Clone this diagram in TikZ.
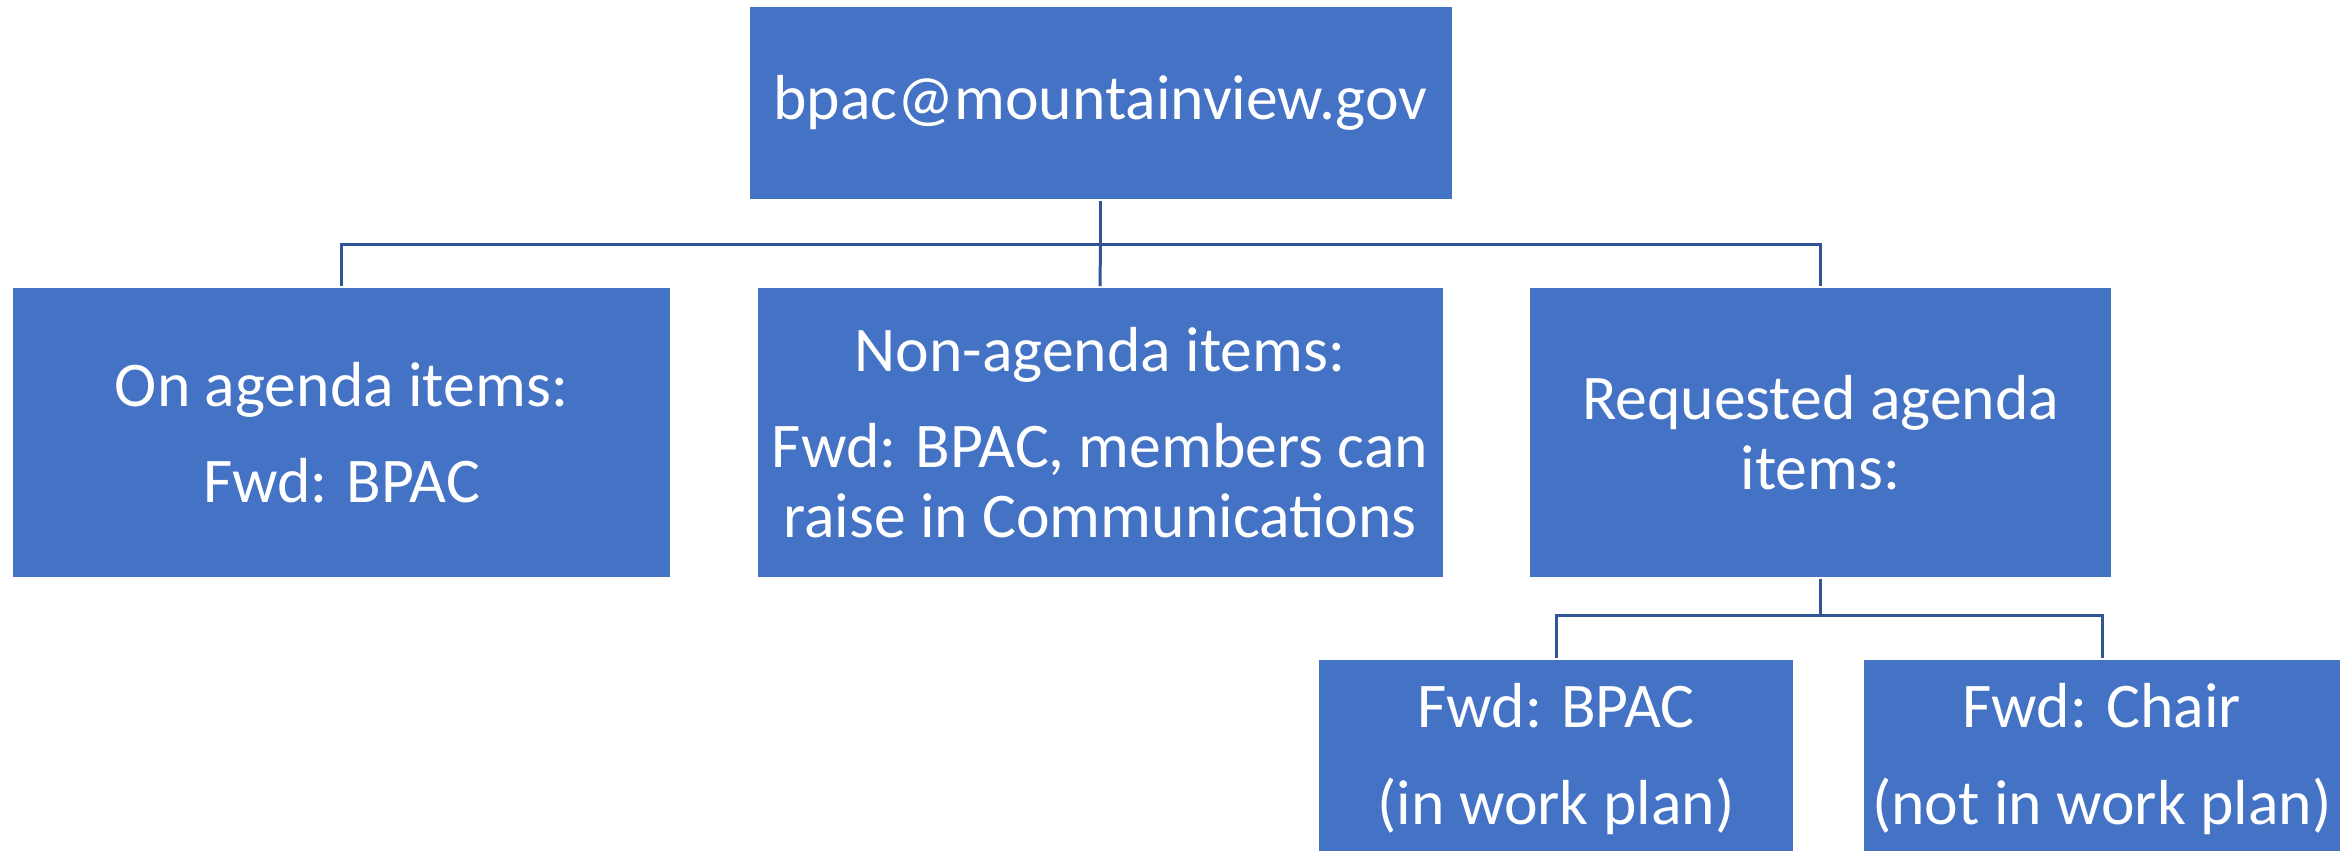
\documentclass[tikz,border=0pt]{standalone}
\usepackage{fontspec}
\setmainfont{Carlito}
\definecolor{boxblue}{HTML}{4472C4}
\definecolor{linkblue}{HTML}{2F5597}
\tikzset{
  orgbox/.style={draw=white, line width=0.4pt, fill=boxblue, text=white, align=center,
    inner sep=0pt, font=\fontsize{18.1}{19.9}\selectfont},
  link/.style={draw=linkblue, line width=0.85pt}
}
\begin{document}
\begin{tikzpicture}[x=0.01cm, y=-0.01cm]
\clip (0,0) rectangle (2351,850);
\fill[white] (0,0) rectangle (2351,850);
% boxes
\node[orgbox, minimum width=7.03cm, minimum height=1.94cm] (top) at (1100.5,103) {bpac@mountainview.gov};
\node[orgbox, minimum width=6.59cm, minimum height=2.91cm] (onag) at (341.5,432.5) {On agenda items:\\[7.4pt]Fwd: BPAC};
\node[orgbox, minimum width=6.86cm, minimum height=2.91cm] (nonag) at (1100,432.5) {Non-agenda items:\\[7.4pt]Fwd: BPAC, members can\\raise in Communications};
\node[orgbox, minimum width=5.83cm, minimum height=2.91cm] (req) at (1820.5,432.5) {Requested agenda\\items:};
\node[orgbox, minimum width=4.76cm, minimum height=2.0cm] (fbpac) at (1556,759) {Fwd: BPAC\\[7.4pt](in work plan)};
\node[orgbox, minimum width=4.78cm, minimum height=2.0cm] (fchair) at (2102,759) {Fwd: Chair\\[7.4pt](not in work plan)};
% connectors
\coordinate (bus1) at (1100.5,244);
\coordinate (bus2) at (1820.5,615);
\draw[link] (top.south) -- (bus1);
\draw[link] (onag.north) |- (bus1) -| (req.north);
\draw[link] (bus1) -- (nonag.north);
\draw[link] (req.south) -- (bus2);
\draw[link] (fbpac.north) |- (bus2) -| (fchair.north);
\end{tikzpicture}
\end{document}
